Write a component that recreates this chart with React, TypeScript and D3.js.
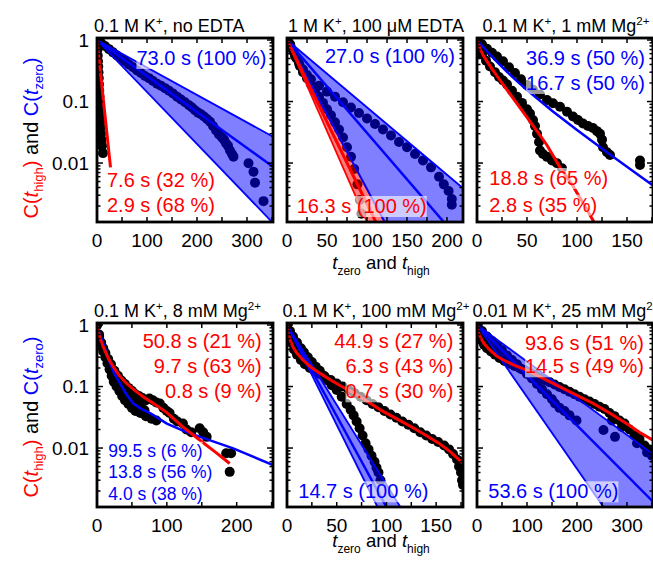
import React, { useEffect, useRef } from "react";
import * as d3 from "d3";

type Pt = [number, number];

const FONT = "'Liberation Sans', Arial, Helvetica, sans-serif";
const RED = "#ff0000";
const BLUE = "#0000ff";

// ---- data ----
const panelTitles = [
  "0.1 M K^{+}, no EDTA",
  "1 M K^{+}, 100 \u03bcM EDTA",
  "0.1 M K^{+}, 1 mM Mg^{2+}",
  "0.1 M K^{+}, 8 mM Mg^{2+}",
  "0.1 M K^{+}, 100 mM Mg^{2+}",
  "0.01 M K^{+}, 25 mM Mg^{2+}",
];
const xMaxes = [352, 220, 176, 252, 177, 352];
const xTickSteps = [50, 25, 25, 50, 25, 50];
const xTickLabels = [
  [0, 100, 200, 300],
  [0, 50, 100, 150, 200],
  [0, 50, 100, 150],
  [0, 100, 200],
  [0, 50, 100, 150],
  [0, 100, 200, 300],
];
const yTickLabels = [1, 0.1, 0.01];
const yDomain: [number, number] = [0.0011, 1.078];

// panel 1: 0.1 M K+, no EDTA
const p1HighDots: Pt[] = [[0, 1], [0.5, 0.85], [1, 0.7], [1.5, 0.56], [2, 0.45], [2.5, 0.37], [3, 0.3], [3.5, 0.24], [4, 0.19], [4.5, 0.15], [5, 0.12], [5.5, 0.095], [6, 0.075], [6.5, 0.06], [7, 0.048], [7.5, 0.038], [8, 0.03], [9, 0.024], [10, 0.019], [12, 0.0145]];
const p1ZeroDots: Pt[] = [[0, 1], [8, 0.9], [16, 0.8], [24, 0.71], [32, 0.63], [40, 0.56], [48, 0.5], [56, 0.45], [64, 0.4], [72, 0.36], [80, 0.32], [88, 0.29], [96, 0.26], [104, 0.24], [112, 0.215], [120, 0.195], [128, 0.18], [136, 0.165], [144, 0.15], [152, 0.135], [160, 0.12], [168, 0.108], [176, 0.097], [184, 0.087], [190, 0.08], [196, 0.072], [202, 0.066], [208, 0.062], [214, 0.057], [220, 0.052], [226, 0.047], [232, 0.04], [238, 0.034], [244, 0.029], [250, 0.026], [254, 0.024], [258, 0.021], [262, 0.019], [266, 0.016], [270, 0.014], [273, 0.0127], [303, 0.0099], [313, 0.0072], [316, 0.0048], [333, 0.0024]];
const p1HighFit: Pt[] = [[0, 1], [27, 0.0085]];
const p1ZeroFit: Pt[] = [[0, 1], [352, 0.0087]];
const p1ZeroBandUp: Pt[] = [[0, 1], [352, 0.0268]];
const p1ZeroBandLo: Pt[] = [[0, 1], [350, 0.0011]];
const p1HighText = ["7.6 s (32 %)", "2.9 s (68 %)"];
const p1ZeroText = ["73.0 s (100 %)"];

// panel 2: 1 M K+, 100 uM EDTA
const p2HighDots: Pt[] = [[0, 1], [4, 0.85], [8, 0.65], [12, 0.5], [16, 0.38], [20, 0.3], [25, 0.24], [30, 0.19], [35, 0.15], [40, 0.12], [45, 0.095], [50, 0.075], [55, 0.06], [60, 0.046], [65, 0.035], [70, 0.026], [75, 0.018], [80, 0.0126], [84, 0.008], [88, 0.0045], [91, 0.0025], [93, 0.0015]];
const p2ZeroDots: Pt[] = [[0, 1], [5, 0.75], [10, 0.55], [15, 0.42], [20, 0.33], [25, 0.27], [30, 0.23], [40, 0.18], [50, 0.145], [60, 0.12], [70, 0.097], [80, 0.08], [90, 0.065], [100, 0.053], [110, 0.043], [120, 0.035], [130, 0.028], [140, 0.022], [150, 0.018], [160, 0.014], [170, 0.011], [180, 0.0085], [190, 0.006], [196, 0.0045], [202, 0.0035], [206, 0.0026], [206, 0.0021]];
const p2HighFit: Pt[] = [[0, 1], [111, 0.0011]];
const p2HighBandUp: Pt[] = [[0, 1], [122, 0.0011]];
const p2HighBandLo: Pt[] = [[0, 1], [100, 0.0011]];
const p2ZeroFit: Pt[] = [[0, 1], [196, 0.0011]];
const p2ZeroBandUp: Pt[] = [[0, 1], [220, 0.0039]];
const p2ZeroBandLo: Pt[] = [[0, 1], [122, 0.0011]];
const p2HighText = ["16.3 s (100 %)"];
const p2ZeroText = ["27.0 s (100 %)"];

// panel 3: 0.1 M K+, 1 mM Mg2+
const p3HighDots: Pt[] = [[0, 1], [2, 0.75], [5, 0.58], [9, 0.46], [13, 0.37], [18, 0.3], [22, 0.25], [26, 0.22], [30, 0.19], [35, 0.15], [40, 0.12], [45, 0.095], [50, 0.075], [53, 0.064], [56, 0.05], [58, 0.04], [60, 0.03], [62, 0.022], [63, 0.016], [66, 0.014], [70, 0.0126], [75, 0.011], [80, 0.0099], [85, 0.0082]];
const p3ZeroDots: Pt[] = [[0, 1], [5, 0.85], [10, 0.72], [15, 0.62], [20, 0.54], [26, 0.45], [32, 0.36], [38, 0.29], [44, 0.23], [50, 0.185], [56, 0.155], [63, 0.13], [70, 0.106], [76, 0.094], [83, 0.082], [90, 0.068], [96, 0.057], [101, 0.05], [106, 0.044], [111, 0.04], [116, 0.037], [120, 0.033], [123, 0.03], [125, 0.024], [126, 0.018], [130, 0.015], [133, 0.0135], [163, 0.011], [163, 0.0093]];
const p3HighFit: Pt[] = [[0, 1], [3, 0.72], [6, 0.57], [10, 0.45], [15, 0.34], [20, 0.26], [30, 0.155], [40, 0.092], [50, 0.055], [60, 0.033], [70, 0.0195], [83, 0.0085], [95, 0.0045], [105, 0.0024], [117, 0.0011]];
const p3ZeroFit: Pt[] = [[0, 1], [10, 0.656], [20, 0.442], [30, 0.305], [40, 0.214], [50, 0.154], [75, 0.071], [100, 0.0345], [133, 0.0138], [176, 0.0043]];
const p3HighText = ["18.8 s (65 %)", "2.8 s (35 %)"];
const p3ZeroText = ["36.9 s (50 %)", "16.7 s (50 %)"];

// panel 4: 0.1 M K+, 8 mM Mg2+
const p4HighDots: Pt[] = [[0, 1], [3, 0.7], [6, 0.52], [9, 0.42], [12, 0.35], [16, 0.28], [20, 0.23], [25, 0.18], [30, 0.15], [35, 0.125], [40, 0.11], [45, 0.095], [50, 0.085], [55, 0.075], [60, 0.07], [65, 0.065], [70, 0.06], [75, 0.064], [80, 0.06], [85, 0.055], [90, 0.053], [95, 0.045], [100, 0.04], [104, 0.037], [110, 0.03], [115, 0.027], [123, 0.025], [128, 0.02], [135, 0.018], [147, 0.021], [152, 0.018], [157, 0.0152], [185, 0.0082], [192, 0.0082], [190, 0.0041]];
const p4ZeroDots: Pt[] = [[0, 1], [3, 0.65], [6, 0.48], [9, 0.37], [12, 0.3], [15, 0.24], [18, 0.19], [21, 0.15], [22, 0.17], [24, 0.12], [27, 0.13], [28, 0.1], [32, 0.085], [33, 0.105], [36, 0.07], [38, 0.088], [40, 0.06], [43, 0.072], [45, 0.052], [48, 0.062], [50, 0.045], [53, 0.056], [55, 0.04], [58, 0.05], [62, 0.037], [63, 0.046], [68, 0.041], [70, 0.033], [78, 0.03], [85, 0.028]];
const p4HighFit: Pt[] = [[0, 1], [4, 0.62], [9, 0.44], [16, 0.29], [23.3, 0.21], [32, 0.15], [42.4, 0.112], [55, 0.085], [66.2, 0.068], [82, 0.052], [99.5, 0.038], [123, 0.022], [147, 0.0135], [170, 0.0085], [190, 0.0056]];
const p4ZeroFit: Pt[] = [[0, 1], [4, 0.7], [9, 0.5], [14, 0.34], [18.6, 0.24], [25, 0.16], [33, 0.112], [42, 0.075], [52, 0.053], [64, 0.043], [76, 0.037], [100, 0.025], [124, 0.019], [147.6, 0.0152], [195, 0.0099], [252, 0.0053]];
const p4HighText = ["50.8 s (21 %)", "9.7 s (63 %)", "0.8 s (9 %)"];
const p4ZeroText = ["99.5 s (6 %)", "13.8 s (56 %)", "4.0 s (38 %)"];

// panel 5: 0.1 M K+, 100 mM Mg2+
const p5HighDots: Pt[] = [[0, 1], [2, 0.7], [4, 0.52], [7, 0.4], [10, 0.33], [14, 0.27], [18, 0.23], [23, 0.2], [28, 0.18], [33, 0.16], [38, 0.145], [44, 0.128], [50, 0.112], [56, 0.1], [62, 0.088], [68, 0.078], [74, 0.068], [80, 0.06], [86, 0.052], [92, 0.046], [98, 0.04], [104, 0.035], [110, 0.031], [116, 0.027], [122, 0.024], [128, 0.021], [134, 0.018], [140, 0.016], [146, 0.014], [152, 0.0125], [158, 0.011], [163, 0.0095], [167, 0.008], [171, 0.0065], [173, 0.005], [175, 0.004], [176, 0.003], [177, 0.0025]];
const p5ZeroDots: Pt[] = [[0, 1], [3, 0.8], [6, 0.65], [10, 0.52], [14, 0.42], [17, 0.36], [21, 0.3], [25, 0.25], [29, 0.21], [33, 0.18], [37, 0.15], [41, 0.125], [45, 0.105], [50, 0.088], [55, 0.068], [60, 0.052], [64, 0.042], [67, 0.034], [70, 0.027], [73, 0.021], [76, 0.016], [79, 0.012], [82, 0.0095], [85, 0.0075], [88, 0.006], [90, 0.0048], [92, 0.004], [94, 0.003]];
const p5HighFit: Pt[] = [[0, 1], [1.5, 0.7], [3.1, 0.57], [6, 0.44], [9.9, 0.35], [16, 0.27], [23.5, 0.21], [33, 0.165], [43.9, 0.128], [55, 0.1], [67.7, 0.078], [80, 0.058], [94.9, 0.041], [110, 0.03], [125.5, 0.022], [140, 0.016], [152.7, 0.012], [165, 0.0085], [177, 0.0056]];
const p5ZeroFit: Pt[] = [[0, 1], [100, 0.0011]];
const p5ZeroBandUp: Pt[] = [[0, 1], [114, 0.0011]];
const p5ZeroBandLo: Pt[] = [[0, 1], [91, 0.0011]];
const p5HighText = ["44.9 s (27 %)", "6.3 s (43 %)", "0.7 s (30 %)"];
const p5ZeroText = ["14.7 s (100 %)"];

// panel 6: 0.01 M K+, 25 mM Mg2+
const p6HighDots: Pt[] = [[0, 1], [4, 0.75], [8, 0.6], [14, 0.48], [20, 0.42], [28, 0.37], [36, 0.33], [45, 0.29], [55, 0.26], [65, 0.235], [75, 0.215], [85, 0.2], [95, 0.185], [105, 0.17], [115, 0.155], [125, 0.14], [135, 0.128], [145, 0.118], [155, 0.108], [165, 0.098], [175, 0.09], [185, 0.082], [195, 0.075], [205, 0.068], [215, 0.062], [225, 0.057], [235, 0.052], [245, 0.047], [255, 0.043], [265, 0.037], [270, 0.028], [275, 0.033], [285, 0.028], [290, 0.022], [295, 0.025], [305, 0.02], [315, 0.016], [320, 0.012], [325, 0.014], [335, 0.011], [340, 0.0085], [345, 0.0095], [350, 0.0075]];
const p6ZeroDots: Pt[] = [[0, 1], [10, 0.8], [20, 0.65], [30, 0.55], [40, 0.46], [50, 0.39], [60, 0.32], [70, 0.27], [80, 0.23], [90, 0.19], [100, 0.16], [110, 0.135], [120, 0.11], [130, 0.09], [140, 0.075], [150, 0.062], [156, 0.053], [165, 0.045], [175, 0.04], [185, 0.034], [199, 0.028], [253, 0.0196], [276, 0.0152]];
const p6HighFit: Pt[] = [[0, 1], [2, 0.8], [6, 0.645], [14, 0.5], [26, 0.39], [40, 0.31], [52.7, 0.27], [75, 0.22], [99.3, 0.185], [130, 0.138], [166, 0.099], [200, 0.072], [232.7, 0.053], [265, 0.037], [299, 0.025], [325, 0.018], [351, 0.0135]];
const p6ZeroFit: Pt[] = [[0, 1], [352, 0.00134]];
const p6ZeroBandUp: Pt[] = [[0, 1], [352, 0.008]];
const p6ZeroBandLo: Pt[] = [[0, 1], [253, 0.0011]];
const p6HighText = ["93.6 s (51 %)", "14.5 s (49 %)"];
const p6ZeroText = ["53.6 s (100 %)"];

const panels = [
  { highDots: p1HighDots, zeroDots: p1ZeroDots, highFit: p1HighFit, zeroFit: p1ZeroFit, highBand: null, zeroBand: [p1ZeroBandUp, p1ZeroBandLo], highText: p1HighText, zeroText: p1ZeroText },
  { highDots: p2HighDots, zeroDots: p2ZeroDots, highFit: p2HighFit, zeroFit: p2ZeroFit, highBand: [p2HighBandUp, p2HighBandLo], zeroBand: [p2ZeroBandUp, p2ZeroBandLo], highText: p2HighText, zeroText: p2ZeroText },
  { highDots: p3HighDots, zeroDots: p3ZeroDots, highFit: p3HighFit, zeroFit: p3ZeroFit, highBand: null, zeroBand: null, highText: p3HighText, zeroText: p3ZeroText },
  { highDots: p4HighDots, zeroDots: p4ZeroDots, highFit: p4HighFit, zeroFit: p4ZeroFit, highBand: null, zeroBand: null, highText: p4HighText, zeroText: p4ZeroText },
  { highDots: p5HighDots, zeroDots: p5ZeroDots, highFit: p5HighFit, zeroFit: p5ZeroFit, highBand: null, zeroBand: [p5ZeroBandUp, p5ZeroBandLo], highText: p5HighText, zeroText: p5ZeroText },
  { highDots: p6HighDots, zeroDots: p6ZeroDots, highFit: p6HighFit, zeroFit: p6ZeroFit, highBand: null, zeroBand: [p6ZeroBandUp, p6ZeroBandLo], highText: p6HighText, zeroText: p6ZeroText },
];

// ---- layout ----
const PW = 176;
const PH = 184;
const layout = [
  { left: 97, top: 38, title: "start", hi: { anchor: "start", dx: 10, dy: 149, step: 25, size: 20 }, ze: { anchor: "end", dx: -6.5, dy: 27, step: 25, size: 20 } },
  { left: 287, top: 38, title: "middle", hi: { anchor: "start", dx: 9.7, dy: 175, step: 25, size: 20 }, ze: { anchor: "end", dx: -8, dy: 25.3, step: 25, size: 20 } },
  { left: 477, top: 38, title: "middle", hi: { anchor: "start", dx: 12.3, dy: 147, step: 26.7, size: 20 }, ze: { anchor: "end", dx: -8, dy: 27, step: 25, size: 20 } },
  { left: 97, top: 323, title: "start", hi: { anchor: "end", dx: -11.3, dy: 25.3, step: 25, size: 20 }, ze: { anchor: "start", dx: 11.3, dy: 133.7, step: 21.7, size: 17.5 } },
  { left: 287, top: 323, title: "middle", hi: { anchor: "end", dx: -9.7, dy: 25.3, step: 25, size: 20 }, ze: { anchor: "start", dx: 11.3, dy: 175.3, step: 25, size: 20 } },
  { left: 477, top: 323, title: "middle", hi: { anchor: "end", dx: -9, dy: 27, step: 23.3, size: 20 }, ze: { anchor: "start", dx: 11.3, dy: 175.3, step: 25, size: 20 } },
];

const App = () => {
  const svgRef = useRef<SVGSVGElement>(null);

  useEffect(() => {
    const svg = d3.select(svgRef.current);
    svg.selectAll("*").remove();

    panels.forEach((p, i) => {
      const L = layout[i];
      const xMax = xMaxes[i];
      const x = d3.scaleLinear().domain([0, xMax]).range([L.left, L.left + PW]);
      const y = d3.scaleLog().domain(yDomain).range([L.top + PH, L.top]);
      const line = d3.line<Pt>().x((d) => x(d[0])).y((d) => y(d[1]));

      svg.append("clipPath").attr("id", `clip${i}`)
        .append("rect").attr("x", L.left).attr("y", L.top).attr("width", PW).attr("height", PH);
      const g = svg.append("g").attr("clip-path", `url(#clip${i})`);

      // raw data points (black, tinted by the bands drawn above them)
      g.selectAll("circle.d")
        .data([...p.highDots, ...p.zeroDots])
        .join("circle")
        .attr("cx", (d) => x(d[0]))
        .attr("cy", (d) => y(d[1]))
        .attr("r", 5)
        .attr("fill", "#000");

      const drawBand = (band: Pt[][] | null, color: string) => {
        if (!band) return;
        const [up, lo] = band;
        const poly: Pt[] = [...up, [xMax, yDomain[0]], ...lo.slice().reverse()];
        g.append("path").attr("d", line(poly) + "Z").attr("fill", color).attr("fill-opacity", 0.5);
        [up, lo].forEach((e) =>
          g.append("path").attr("d", line(e)).attr("fill", "none").attr("stroke", color).attr("stroke-width", 1.8)
        );
      };
      drawBand(p.highBand, RED);
      drawBand(p.zeroBand, BLUE);

      g.append("path").attr("d", line(p.zeroFit)).attr("fill", "none").attr("stroke", BLUE).attr("stroke-width", 2.5);
      g.append("path").attr("d", line(p.highFit)).attr("fill", "none").attr("stroke", RED).attr("stroke-width", 3);

      // annotations with translucent boxes
      const drawTexts = (texts: string[], cfg: any, color: string) => {
        texts.forEach((t, k) => {
          const tx = cfg.anchor === "end" ? L.left + PW + cfg.dx : L.left + cfg.dx;
          const ty = L.top + cfg.dy + k * cfg.step;
          const grp = svg.append("g");
          const rect = grp.append("rect");
          const text = grp.append("text")
            .attr("x", tx).attr("y", ty)
            .attr("text-anchor", cfg.anchor)
            .attr("font-family", FONT).attr("font-size", cfg.size)
            .attr("fill", color).text(t);
          const bb = (text.node() as SVGTextElement).getBBox();
          rect.attr("x", bb.x).attr("y", bb.y + 1).attr("width", bb.width).attr("height", bb.height - 1)
            .attr("fill", "#fff").attr("fill-opacity", 0.6);
        });
      };
      drawTexts(p.highText, L.hi, RED);
      drawTexts(p.zeroText, L.ze, BLUE);

      // frame
      svg.append("rect").attr("x", L.left).attr("y", L.top).attr("width", PW).attr("height", PH)
        .attr("fill", "none").attr("stroke", "#000").attr("stroke-width", 2.8);

      // y ticks (log, both sides inward)
      const yt: { v: number; major: boolean }[] = [];
      [1, 0.1, 0.01, 0.001].forEach((dec) => {
        for (let k = 1; k <= 9; k++) {
          const v = dec * k;
          if (v >= yDomain[0] && v <= yDomain[1] && !(k > 1 && dec === 1)) yt.push({ v, major: k === 1 });
        }
      });
      yt.forEach((t) => {
        const len = t.major ? 6 : 3.5;
        const yy = y(t.v);
        svg.append("line").attr("x1", L.left).attr("x2", L.left + len).attr("y1", yy).attr("y2", yy)
          .attr("stroke", "#000").attr("stroke-width", 1.5);
        svg.append("line").attr("x1", L.left + PW).attr("x2", L.left + PW - len).attr("y1", yy).attr("y2", yy)
          .attr("stroke", "#000").attr("stroke-width", 1.5);
      });
      if (i % 3 === 0) {
        yTickLabels.forEach((v) => {
          svg.append("text").attr("x", L.left - 8).attr("y", y(v)).attr("dy", "0.36em")
            .attr("text-anchor", "end").attr("font-family", FONT).attr("font-size", 19).text(String(v));
        });
      }

      // x ticks (both sides inward)
      d3.range(xTickSteps[i], xMax, xTickSteps[i]).forEach((v) => {
        const xx = x(v);
        svg.append("line").attr("x1", xx).attr("x2", xx).attr("y1", L.top + PH).attr("y2", L.top + PH - 5)
          .attr("stroke", "#000").attr("stroke-width", 1.5);
        svg.append("line").attr("x1", xx).attr("x2", xx).attr("y1", L.top).attr("y2", L.top + 5)
          .attr("stroke", "#000").attr("stroke-width", 1.5);
      });
      xTickLabels[i].forEach((v) => {
        svg.append("text").attr("x", x(v)).attr("y", L.top + PH + 24.5)
          .attr("text-anchor", "middle").attr("font-family", FONT).attr("font-size", 19).text(String(v));
      });

      // title, ^{..} segments as superscripts
      const title = svg.append("text")
        .attr("x", L.title === "start" ? L.left - 3 : L.left + PW / 2 + 1)
        .attr("y", L.top - 6)
        .attr("text-anchor", L.title)
        .attr("font-family", FONT).attr("font-size", 18);
      let raised = false;
      panelTitles[i].split(/(\^\{[^}]*\})/).filter((s) => s).forEach((s) => {
        if (s.startsWith("^{")) {
          title.append("tspan").attr("font-size", 11.5).attr("dy", -7).text(s.slice(2, -1));
          raised = true;
        } else {
          const ts = title.append("tspan").text(s);
          if (raised) ts.attr("dy", 7);
          raised = false;
        }
      });
    });

    // axis titles
    [138, 417].forEach((cy) => {
      const t = svg.append("text")
        .attr("transform", `translate(38,${cy}) rotate(-90)`)
        .attr("text-anchor", "middle").attr("font-family", FONT).attr("font-size", 20);
      const part = (s: string, color: string, opts: any = {}) => {
        const ts = t.append("tspan").attr("fill", color).text(s);
        if (opts.italic) ts.attr("font-style", "italic");
        if (opts.sub) ts.attr("font-size", 13).attr("dy", 5);
        if (opts.up) ts.attr("dy", -5);
      };
      part("C(", RED);
      part("t", RED, { italic: true });
      part("high", RED, { sub: true });
      part(")", RED, { up: true });
      part(" and ", "#000");
      part("C(", BLUE);
      part("t", BLUE, { italic: true });
      part("zero", BLUE, { sub: true });
      part(")", BLUE, { up: true });
    });
    [268.5, 547].forEach((by) => {
      const t = svg.append("text")
        .attr("x", 381).attr("y", by)
        .attr("text-anchor", "middle").attr("font-family", FONT).attr("font-size", 18.5);
      t.append("tspan").attr("font-style", "italic").text("t");
      t.append("tspan").attr("font-size", 12).attr("dy", 6).text("zero");
      t.append("tspan").attr("dy", -6).text(" and ");
      t.append("tspan").attr("font-style", "italic").text("t");
      t.append("tspan").attr("font-size", 12).attr("dy", 6).text("high");
    });
  }, []);

  return (
    <svg
      ref={svgRef}
      width={653}
      height={563}
      style={{ position: "absolute", left: 0, top: 0, background: "#fff" }}
    />
  );
};

export default App;
